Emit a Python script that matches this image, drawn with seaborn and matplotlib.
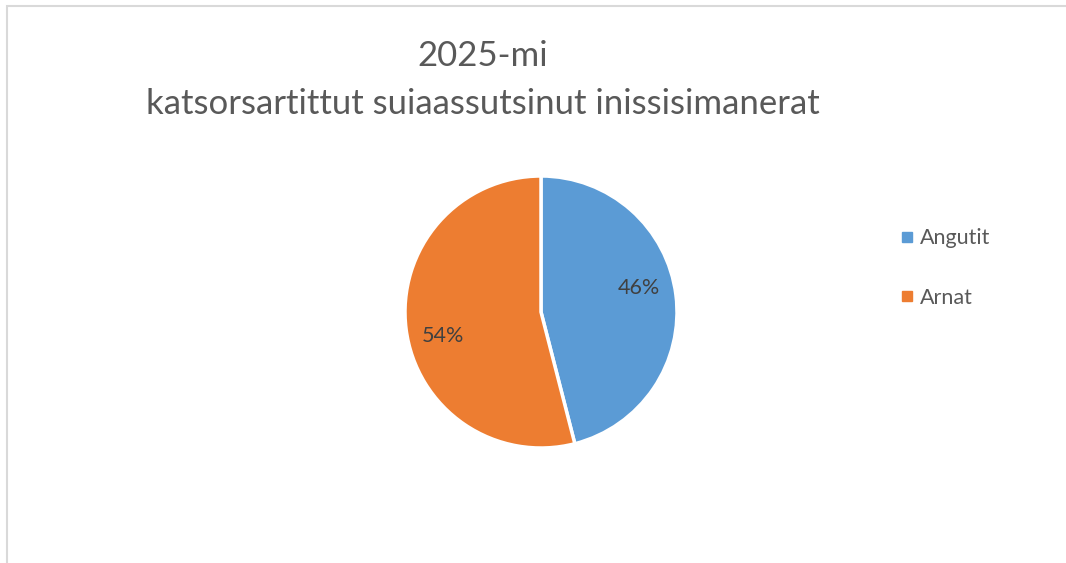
import matplotlib
matplotlib.use("Agg")
import matplotlib.pyplot as plt
import seaborn as sns
import numpy as np
from matplotlib.patches import Rectangle
from matplotlib.lines import Line2D

categories = ["Angutit", "Arnat"]
values = [46, 54]
colors = ["#5B9BD5", "#ED7D31"]
title_lines = ["2025-mi", "katsorsartittut suiaassutsinut inissisimanerat"]

sns.set_theme(style="white")
plt.rcParams['font.family'] = ['Lato', 'DejaVu Sans']

W, H = 1066, 563
fig = plt.figure(figsize=(W / 100, H / 100), dpi=100)
fig.patch.set_facecolor("white")

# chart border (extends past right/bottom edges)
fig.patches.append(Rectangle((6.5 / W, -0.1), 1.2, 1 - 6.5 / H + 0.1,
                             transform=fig.transFigure, fill=False,
                             edgecolor="#D9D9D9", linewidth=1.5))

cx, cy, r = 541, 312, 136
ax = fig.add_axes([(cx - r) / W, 1 - (cy + r) / H, 2 * r / W, 2 * r / H])
wedges, texts, autotexts = ax.pie(
    values, colors=colors, startangle=90, counterclock=False,
    autopct=lambda p: f"{p:.0f}%", pctdistance=0.74, radius=1,
    wedgeprops=dict(edgecolor="white", linewidth=2.5),
    textprops=dict(color="#404040", fontsize=15.5))
# Excel-style label placement: slightly rotated counter-clockwise
rot = np.deg2rad(6.7)
for t in autotexts:
    x, y = t.get_position()
    t.set_position((x * np.cos(rot) - y * np.sin(rot),
                    x * np.sin(rot) + y * np.cos(rot)))
ax.set_xlim(-1, 1)
ax.set_ylim(-1, 1)
ax.set_aspect("equal")
ax.axis("off")

fig.text(483 / W, 1 - 56 / H, title_lines[0], ha="center", va="center",
         fontsize=25, color="#595959")
fig.text(483 / W, 1 - 104 / H, title_lines[1], ha="center", va="center",
         fontsize=25, color="#595959")

handles = [Line2D([0], [0], marker="s", linestyle="none", markersize=7,
                  markerfacecolor=c, markeredgecolor=c) for c in colors]
fig.legend(handles, categories, loc="center left",
           bbox_to_anchor=(877 / W, 1 - 268 / H), frameon=False,
           fontsize=15.5, labelcolor="#595959", handletextpad=0.1,
           handlelength=1.0, labelspacing=1.85)

fig.savefig("out.png", dpi=100, facecolor="white")
